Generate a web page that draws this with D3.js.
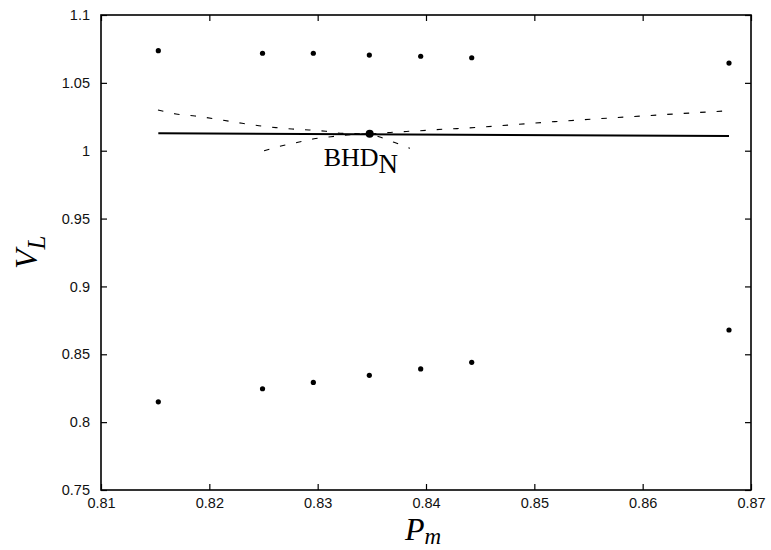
<!DOCTYPE html>
<html>
<head>
<meta charset="utf-8">
<script src="https://cdn.jsdelivr.net/npm/d3@7"></script>
<style>
  html, body { margin: 0; padding: 0; background: #fff; }
  svg { display: block; }
</style>
</head>
<body>
<svg id="chart" width="771" height="550"></svg>
<script>
// ---- data ----
const xTicks = [0.81, 0.82, 0.83, 0.84, 0.85, 0.86, 0.87];
const xTickLabels = ["0.81", "0.82", "0.83", "0.84", "0.85", "0.86", "0.87"];
const yTicks = [0.75, 0.8, 0.85, 0.9, 0.95, 1.0, 1.05, 1.1];
const yTickLabels = ["0.75", "0.8", "0.85", "0.9", "0.95", "1", "1.05", "1.1"];

const pointsX = [0.81529, 0.82491, 0.82960, 0.83477, 0.83951, 0.84422, 0.86797];
const upperY  = [1.0737, 1.0718, 1.0718, 1.0705, 1.0696, 1.0685, 1.0646];
const lowerY  = [0.8150, 0.8246, 0.8293, 0.8345, 0.8392, 0.8441, 0.8679];

const solidX = [0.81529, 0.86797];
const solidY = [1.0128, 1.0108];

const dashUpperX = [0.81526, 0.81692, 0.81868, 0.82302, 0.82458, 0.82615, 0.82763, 0.82920, 0.83077, 0.83234, 0.83474, 0.83695, 0.83843, 0.84000, 0.84157, 0.84286, 0.85145, 0.86797];
const dashUpperY = [1.0300, 1.0271, 1.0256, 1.0202, 1.0184, 1.0170, 1.0160, 1.0153, 1.0143, 1.0128, 1.0125, 1.0136, 1.0143, 1.0150, 1.0158, 1.0163, 1.0212, 1.0295];

const dashLowerX = [0.82505, 0.82662, 0.82819, 0.82966, 0.83123, 0.83474, 0.83566, 0.83705, 0.83852];
const dashLowerY = [1.0000, 1.0035, 1.0062, 1.0088, 1.0103, 1.0125, 1.0103, 1.0062, 1.0018];

const bhdPoint = [0.8348, 1.0125];
const bhdLabel = ["BHD", "N"];
const xLabel = ["P", "m"];
const yLabel = ["V", "L"];

// ---- layout ----
const W = 771, H = 550;
const margin = { left: 101, right: 20, top: 15, bottom: 60 };
const svg = d3.select("#chart");

const x = d3.scaleLinear().domain([0.81, 0.87]).range([margin.left, W - margin.right]);
const y = d3.scaleLinear().domain([0.75, 1.1]).range([H - margin.bottom, margin.top]);

const tickFont = "'Liberation Sans', Arial, Helvetica, sans-serif";
const serif = "'Liberation Serif', 'Times New Roman', Times, serif";

// axes
const xAxis = d3.axisBottom(x).tickValues(xTicks).tickFormat((d, i) => xTickLabels[i]).tickSizeInner(-6).tickSizeOuter(0).tickPadding(8);
const yAxis = d3.axisLeft(y).tickValues(yTicks).tickFormat((d, i) => yTickLabels[i]).tickSizeInner(-6).tickSizeOuter(0).tickPadding(11);
const xTop = d3.axisTop(x).tickValues(xTicks).tickFormat("").tickSizeInner(-6).tickSizeOuter(0);
const yRight = d3.axisRight(y).tickValues(yTicks).tickFormat("").tickSizeInner(-6).tickSizeOuter(0);

function styleAxis(g) {
  g.select(".domain").remove();
  g.selectAll(".tick line").attr("stroke", "#000").attr("stroke-width", 1.2);
  g.selectAll(".tick text").attr("fill", "#111").style("font-family", tickFont).style("font-size", "14.5px");
}

svg.append("g").attr("transform", `translate(0,${H - margin.bottom})`).call(xAxis).call(styleAxis);
svg.append("g").attr("transform", `translate(${margin.left},0)`).call(yAxis).call(styleAxis);
svg.append("g").attr("transform", `translate(0,${margin.top})`).call(xTop).call(styleAxis);
svg.append("g").attr("transform", `translate(${W - margin.right},0)`).call(yRight).call(styleAxis);

// frame
svg.append("rect")
  .attr("x", x(0.81)).attr("y", y(1.1))
  .attr("width", x(0.87) - x(0.81)).attr("height", y(0.75) - y(1.1))
  .attr("fill", "none").attr("stroke", "#000").attr("stroke-width", 1.6);

// dashed curves
const line = d3.line().x(d => x(d[0])).y(d => y(d[1])).curve(d3.curveMonotoneX);
svg.append("path")
  .datum(dashUpperX.map((v, i) => [v, dashUpperY[i]]))
  .attr("d", line).attr("fill", "none").attr("stroke", "#000")
  .attr("stroke-width", 1.1).attr("stroke-dasharray", "5.5,11");
svg.append("path")
  .datum(dashLowerX.map((v, i) => [v, dashLowerY[i]]))
  .attr("d", line).attr("fill", "none").attr("stroke", "#000")
  .attr("stroke-width", 1.1).attr("stroke-dasharray", "5.5,11");

// solid line
svg.append("path")
  .datum(solidX.map((v, i) => [v, solidY[i]]))
  .attr("d", d3.line().x(d => x(d[0])).y(d => y(d[1])))
  .attr("fill", "none").attr("stroke", "#000").attr("stroke-width", 2);

// points
svg.append("g").selectAll("circle")
  .data(pointsX.map((v, i) => [v, upperY[i]]))
  .join("circle").attr("cx", d => x(d[0])).attr("cy", d => y(d[1])).attr("r", 2.6).attr("fill", "#000");
svg.append("g").selectAll("circle")
  .data(pointsX.map((v, i) => [v, lowerY[i]]))
  .join("circle").attr("cx", d => x(d[0])).attr("cy", d => y(d[1])).attr("r", 2.6).attr("fill", "#000");

// BHD point
svg.append("circle").attr("cx", x(bhdPoint[0])).attr("cy", y(bhdPoint[1])).attr("r", 4).attr("fill", "#000");

// BHD label
const bl = svg.append("text")
  .attr("x", x(bhdPoint[0]) - 46).attr("y", y(bhdPoint[1]) + 32)
  .style("font-family", serif).style("font-size", "26px").attr("fill", "#000");
bl.append("tspan").text(bhdLabel[0]);
bl.append("tspan").attr("dy", 7).style("font-size", "27px").text(bhdLabel[1]);

// x label
const xl = svg.append("text")
  .attr("x", 405).attr("y", 540)
  .style("font-family", serif).style("font-style", "italic").style("font-size", "32px").attr("fill", "#000");
xl.append("tspan").text(xLabel[0]);
xl.append("tspan").attr("dy", 4).style("font-size", "23px").text(xLabel[1]);

// y label
const yl = svg.append("text")
  .attr("transform", "translate(37,269) rotate(-90)")
  .style("font-family", serif).style("font-style", "italic").style("font-size", "32px").attr("fill", "#000");
yl.append("tspan").text(yLabel[0]);
yl.append("tspan").attr("dy", 8).style("font-size", "25px").text(yLabel[1]);
</script>
</body>
</html>
